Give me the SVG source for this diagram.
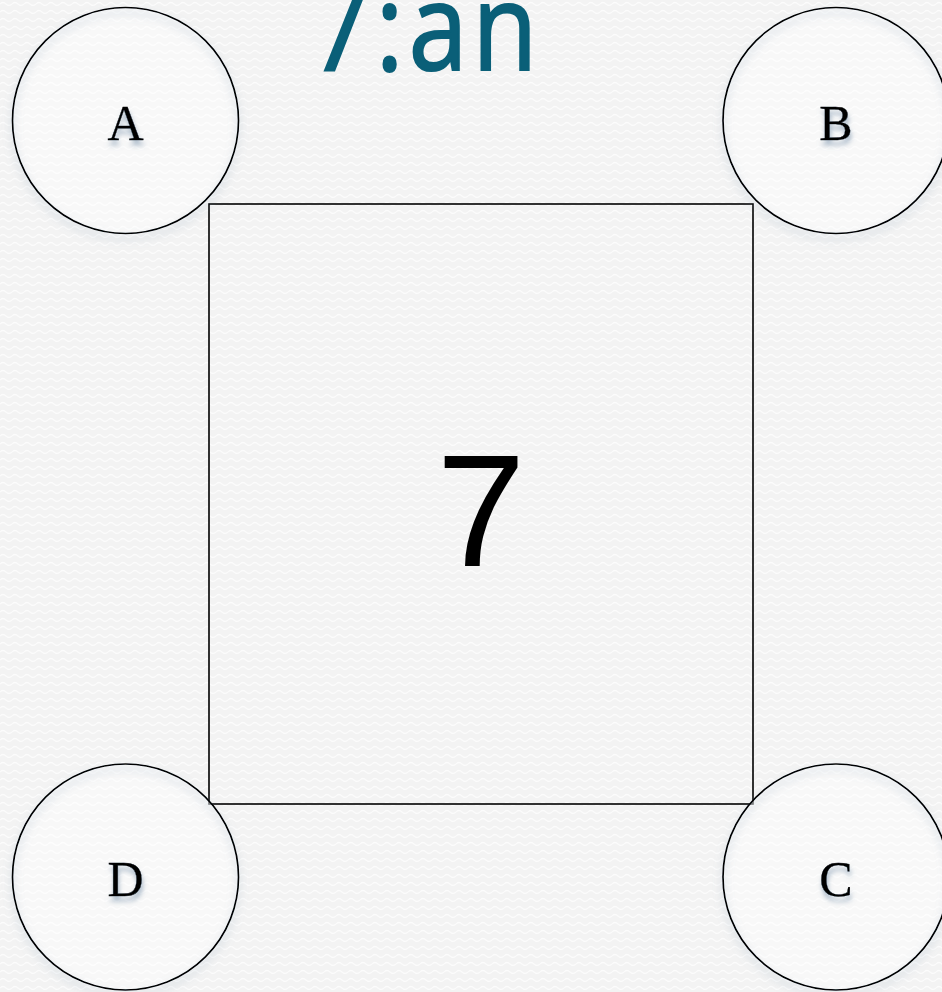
<svg xmlns="http://www.w3.org/2000/svg" width="942" height="992" viewBox="0 0 942 992">
<defs>
<pattern id="bgp" width="12" height="8" patternUnits="userSpaceOnUse">
<rect width="12" height="8" fill="#f3f3f3"/>
<path d="M0 4 Q3 1 6 4 T12 4" fill="none" stroke="#fcfcfc" stroke-width="1.2"/>
</pattern>
<filter id="glow" x="-20%" y="-20%" width="140%" height="140%">
<feGaussianBlur in="SourceAlpha" stdDeviation="4"/>
<feOffset dx="0" dy="5" result="b"/>
<feFlood flood-color="#7f98b0" flood-opacity="0.6"/>
<feComposite in2="b" operator="in"/>
<feMerge><feMergeNode/><feMergeNode in="SourceGraphic"/></feMerge>
</filter>
<filter id="tsh" x="-50%" y="-50%" width="200%" height="200%">
<feGaussianBlur in="SourceAlpha" stdDeviation="2.5"/>
<feOffset dx="1" dy="5" result="b"/>
<feFlood flood-color="#6f8aa5" flood-opacity="0.6"/>
<feComposite in2="b" operator="in"/>
<feMerge><feMergeNode/><feMergeNode in="SourceGraphic"/></feMerge>
</filter>
</defs>
<style>
.f{fill:#ffffff;fill-opacity:0.45;stroke:none}
.c{fill:none;stroke:#000;stroke-width:1.7}
.l{font-family:"Liberation Serif",serif;font-size:50px;text-anchor:middle;fill:#000;stroke:#000;stroke-width:0.4}
.sq{fill:none;stroke:#000;stroke-width:1.6}
</style>
<rect width="942" height="992" fill="url(#bgp)"/>
<text x="310" y="70" font-family="Open Sans, sans-serif" font-size="120" letter-spacing="6" fill="#0a5f78" stroke="#0a5f78" stroke-width="2.2" transform="translate(310 0) scale(0.88 1) translate(-310 0)">7:an</text>
<g id="connectors"></g>
<g id="square"><rect class="sq" x="209" y="204" width="544" height="600"/>
<text x="481" y="566" font-family="Liberation Sans, sans-serif" font-size="160" text-anchor="middle">7</text></g>
<g id="A"><circle class="f" cx="125.5" cy="120.5" r="113"/><circle class="c" cx="125.5" cy="120.5" r="113" filter="url(#glow)"/><text class="l" x="125.5" y="140" filter="url(#tsh)">A</text></g>
<g id="B"><circle class="f" cx="836" cy="120.5" r="113"/><circle class="c" cx="836" cy="120.5" r="113" filter="url(#glow)"/><text class="l" x="836" y="140" filter="url(#tsh)">B</text></g>
<g id="D"><circle class="f" cx="125.5" cy="877" r="113"/><circle class="c" cx="125.5" cy="877" r="113" filter="url(#glow)"/><text class="l" x="125.5" y="896" filter="url(#tsh)">D</text></g>
<g id="C"><circle class="f" cx="836" cy="877" r="113"/><circle class="c" cx="836" cy="877" r="113" filter="url(#glow)"/><text class="l" x="836" y="896" filter="url(#tsh)">C</text></g>
</svg>
